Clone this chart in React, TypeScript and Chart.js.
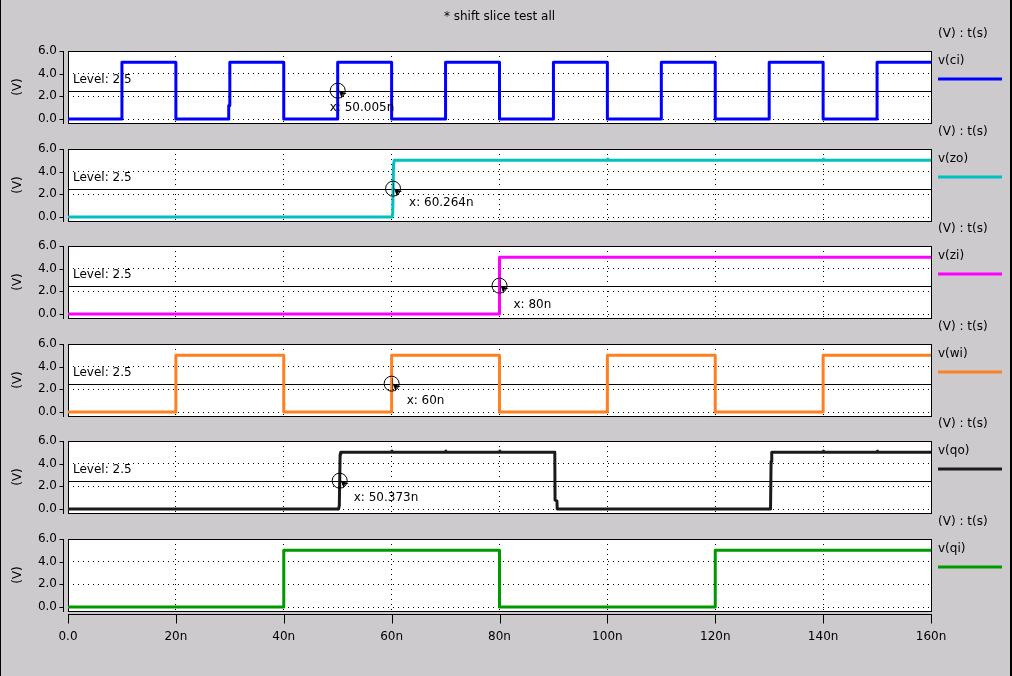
import React, { useEffect, useRef } from 'react';
import { Chart, registerables } from 'chart.js';

Chart.register(...registerables);

// ---------- data ----------
const TITLE = '* shift slice test all';
const X_TICKS = [0, 20, 40, 60, 80, 100, 120, 140, 160];
const Y_TICKS = [0, 2, 4, 6];
const LEVEL = 2.5;
const AXIS_UNITS = '(V) : t(s)';
const Y_TITLE = '(V)';
const X_TITLE = 't(s)';

const signalNames = ['v(ci)', 'v(zo)', 'v(zi)', 'v(wi)', 'v(qo)', 'v(qi)'];

const ciTime = [0, 10, 10, 20, 20, 29.8, 29.8, 30, 30, 40, 40, 50, 50, 60, 60, 70, 70, 80, 80, 90, 90, 100, 100, 110, 110, 120, 120, 130, 130, 140, 140, 150, 150, 160];
const ciVolt = [0, 0, 5, 5, 0, 0, 1.2, 1.2, 5, 5, 0, 0, 5, 5, 0, 0, 5, 5, 0, 0, 5, 5, 0, 0, 5, 5, 0, 0, 5, 5, 0, 0, 5, 5];

const zoTime = [0, 60.05, 60.2, 60.35, 60.5, 100, 100.05, 100.1, 140, 140.05, 140.1, 160];
const zoVolt = [0, 0, 0.3, 4.6, 5, 5, 5.12, 5, 5, 5.12, 5, 5];

const ziTime = [0, 80, 80, 160];
const ziVolt = [0, 0, 5, 5];

const wiTime = [0, 20, 20, 40, 40, 60, 60, 80, 80, 100, 100, 120, 120, 140, 140, 160];
const wiVolt = [0, 0, 5, 5, 0, 0, 5, 5, 0, 0, 5, 5, 0, 0, 5, 5];

const qoTime = [0, 50.15, 50.3, 50.45, 50.55, 60, 60.05, 60.1, 70, 70.05, 70.1, 80, 80.05, 80.1, 90.25, 90.3, 90.65, 90.7, 130.25, 130.35, 130.45, 130.5, 140, 140.05, 140.1, 150, 150.05, 150.1, 160];
const qoVolt = [0, 0, 0.3, 4.8, 5, 5, 5.12, 5, 5, 5.12, 5, 5, 5.12, 5, 5, 0.8, 0.7, 0, 0, 4.2, 4.4, 5, 5, 5.12, 5, 5, 5.12, 5, 5];

const qiTime = [0, 40, 40, 80, 80, 120, 120, 160];
const qiVolt = [0, 0, 5, 5, 0, 0, 5, 5];

const cursorX = [50.005, 60.264, 80, 60, 50.373, null];
const cursorText = ['x: 50.005n', 'x: 60.264n', 'x: 80n', 'x: 60n', 'x: 50.373n', null];

// ---------- style / layout ----------
const BG = 'rgb(204,202,205)';
const FONT = '"DejaVu Sans", sans-serif';
const COLORS = ['#0000ff', '#00c0c0', '#ff00ff', '#ff8020', '#1a1a1a', '#009a00'];
const TOPS = [51, 149, 246, 344, 441, 539];
const BOX_H = 72;
const PLOT_LEFT = 68;
const PLOT_RIGHT = 931;
const W = 1012;
const H = 676;
const Y_MIN = -0.35;
const Y_MAX = 6;
const LABEL_DX = [-8, 16, 14, 15, 14, 0];
const LABEL_DY = [16, 13, 18, 16, 16, 0];

const SERIES = [
  [ciTime, ciVolt],
  [zoTime, zoVolt],
  [ziTime, ziVolt],
  [wiTime, wiVolt],
  [qoTime, qoVolt],
  [qiTime, qiVolt],
];

const BOTTOM_PAD = 22;

function canvasTop(i: number) {
  return i === 0 ? 0 : TOPS[i] - 30;
}
function canvasBottom(i: number) {
  return i === TOPS.length - 1 ? H : TOPS[i] + BOX_H + BOTTOM_PAD;
}

function makeDecor(i: number) {
  const last = i === TOPS.length - 1;
  return {
    id: 'decor' + i,
    beforeDraw(chart: any) {
      const { ctx, chartArea: a } = chart;
      ctx.save();
      ctx.fillStyle = '#ffffff';
      ctx.fillRect(a.left, a.top, a.right - a.left, a.bottom - a.top);
      ctx.restore();
    },
    beforeDatasetsDraw(chart: any) {
      const { ctx, chartArea: a, scales } = chart;
      const ys = scales.y;
      const xs = scales.x;
      ctx.save();
      ctx.strokeStyle = '#000';
      ctx.lineWidth = 1;
      ctx.setLineDash([]);
      // box
      ctx.strokeRect(a.left + 0.5, a.top + 0.5, a.right - a.left, a.bottom - a.top);
      // offset y axis
      const ax = a.left - 5 + 0.5;
      ctx.beginPath();
      ctx.moveTo(ax, a.top);
      ctx.lineTo(ax, a.bottom + 1);
      Y_TICKS.forEach((v) => {
        const py = Math.round(ys.getPixelForValue(v)) + 0.5;
        ctx.moveTo(ax - 4, py);
        ctx.lineTo(ax, py);
      });
      ctx.stroke();
      // level reference line
      if (cursorX[i] !== null && cursorX[i] !== undefined) {
        const ly = Math.round(ys.getPixelForValue(LEVEL)) + 0.5;
        ctx.beginPath();
        ctx.moveTo(xs.getPixelForValue(X_TICKS[0]), ly);
        ctx.lineTo(xs.getPixelForValue(X_TICKS[X_TICKS.length - 1]), ly);
        ctx.stroke();
      }
      if (last) {
        const ay = a.bottom + 3 + 0.5;
        ctx.beginPath();
        ctx.moveTo(a.left, ay);
        ctx.lineTo(a.right + 1, ay);
        X_TICKS.forEach((v) => {
          const px = Math.round(xs.getPixelForValue(v)) + 0.5;
          ctx.moveTo(px, ay);
          ctx.lineTo(px, ay + 9);
        });
        ctx.stroke();
      }
      ctx.restore();
    },
    afterDatasetsDraw(chart: any) {
      const { ctx, chartArea: a, scales } = chart;
      const ys = scales.y;
      const xs = scales.x;
      ctx.save();
      ctx.fillStyle = '#000';
      ctx.font = '12px ' + FONT;
      // y title
      ctx.save();
      ctx.translate(18, (a.top + a.bottom) / 2);
      ctx.rotate(-Math.PI / 2);
      ctx.textAlign = 'center';
      ctx.textBaseline = 'middle';
      ctx.fillText(Y_TITLE, 0, 0);
      ctx.restore();
      // legend
      ctx.textAlign = 'left';
      ctx.textBaseline = 'middle';
      ctx.fillText(AXIS_UNITS, 938, a.top - 17);
      ctx.fillText(signalNames[i], 938, a.top + 10);
      ctx.strokeStyle = COLORS[i];
      ctx.lineWidth = 3;
      ctx.beginPath();
      ctx.moveTo(938, a.top + 28);
      ctx.lineTo(1002, a.top + 28);
      ctx.stroke();
      // title
      if (i === 0) {
        ctx.textAlign = 'center';
        ctx.fillText(TITLE, (a.left + a.right) / 2, 17);
      }
      if (last) {
        ctx.textAlign = 'center';
        ctx.fillText(X_TITLE, (a.left + a.right) / 2, 657);
      }
      // level label + cursor
      const cx = cursorX[i];
      if (cx !== null && cx !== undefined) {
        const ly = Math.round(ys.getPixelForValue(LEVEL)) + 0.5;
        ctx.textAlign = 'left';
        ctx.textBaseline = 'alphabetic';
        ctx.fillText('Level: ' + LEVEL, a.left + 5, Math.round(ly - 9));
        const px = xs.getPixelForValue(cx);
        ctx.strokeStyle = '#000';
        ctx.lineWidth = 1;
        ctx.setLineDash([1, 1]);
        ctx.beginPath();
        ctx.moveTo(Math.round(px) + 0.5, ly - 6);
        ctx.lineTo(Math.round(px) + 0.5, ly + 6);
        ctx.stroke();
        ctx.setLineDash([]);
        ctx.beginPath();
        ctx.moveTo(px + 1, ly - 1);
        ctx.lineTo(px + 9, ly + 2);
        ctx.lineTo(px + 5, ly + 3);
        ctx.lineTo(px + 4, ly + 7);
        ctx.closePath();
        ctx.fill();
        ctx.textBaseline = 'middle';
        ctx.fillText(cursorText[i] as string, px + LABEL_DX[i], ly + LABEL_DY[i]);
      }
      ctx.restore();
    },
  };
}

export default function App() {
  const refs = useRef<(HTMLCanvasElement | null)[]>([]);

  useEffect(() => {
    const charts = SERIES.map(([t, v], i) => {
      const last = i === SERIES.length - 1;
      const top = TOPS[i];
      const c0 = canvasTop(i);
      const datasets: any[] = [];
      const cx = cursorX[i];
      if (cx !== null && cx !== undefined) {
        datasets.push({
          label: 'cursor',
          data: [{ x: cx, y: LEVEL }],
          showLine: false,
          pointStyle: 'circle',
          pointRadius: 7.5,
          pointBorderWidth: 1,
          pointBorderColor: '#000',
          pointBackgroundColor: 'rgba(0,0,0,0)',
          order: 0,
        });
      }
      datasets.push({
        label: signalNames[i],
        data: t.map((x, k) => ({ x, y: v[k] })),
        borderColor: COLORS[i],
        borderWidth: 3,
        pointRadius: 0,
        tension: 0,
        fill: false,
        borderJoinStyle: 'round',
        borderCapStyle: 'butt',
        order: 1,
      });
      const canvas = refs.current[i] as HTMLCanvasElement;
      return new Chart(canvas, {
        type: 'line',
        data: { datasets },
        plugins: [makeDecor(i)],
        options: {
          animation: false,
          responsive: false,
          maintainAspectRatio: false,
          events: [],
          layout: {
            padding: {
              left: 0,
              right: W - PLOT_RIGHT,
              top: top - c0,
              bottom: last ? 0 : BOTTOM_PAD,
            },
          },
          plugins: {
            legend: { display: false },
            tooltip: { enabled: false },
            title: { display: false },
          },
          scales: {
            x: {
              type: 'linear',
              min: X_TICKS[0],
              max: X_TICKS[X_TICKS.length - 1],
              afterBuildTicks: (s: any) => {
                s.ticks = X_TICKS.map((value) => ({ value }));
              },
              afterFit: (s: any) => {
                s.height = last ? H - (top + BOX_H) : 0;
              },
              grid: {
                display: true,
                drawTicks: false,
                color: '#000',
                lineWidth: 1,
              },
              border: { display: false, dash: [1, 4] },
              ticks: {
                display: last,
                padding: 19,
                color: '#000',
                maxRotation: 0,
                autoSkip: false,
                font: { family: FONT, size: 12 },
                callback: (val: any) => (Number(val) === 0 ? '0.0' : val + 'n'),
              },
            },
            y: {
              type: 'linear',
              min: Y_MIN,
              max: Y_MAX,
              afterBuildTicks: (s: any) => {
                s.ticks = Y_TICKS.map((value) => ({ value }));
              },
              afterFit: (s: any) => {
                s.width = PLOT_LEFT;
              },
              grid: {
                display: true,
                drawTicks: false,
                color: '#000',
                lineWidth: 1,
              },
              border: { display: false, dash: [1, 4] },
              ticks: {
                padding: 11,
                color: '#000',
                autoSkip: false,
                font: { family: FONT, size: 12 },
                callback: (val: any) => Number(val).toFixed(1),
              },
            },
          },
        } as any,
      });
    });
    return () => charts.forEach((c) => c.destroy());
  }, []);

  return (
    <div
      style={{
        position: 'absolute',
        left: 0,
        top: 0,
        width: W,
        height: H,
        background: BG,
        overflow: 'hidden',
      }}
    >
      {SERIES.map((_, i) => (
        <canvas
          key={i}
          ref={(el) => {
            refs.current[i] = el;
          }}
          width={W}
          height={canvasBottom(i) - canvasTop(i)}
          style={{ position: 'absolute', left: 0, top: canvasTop(i), display: 'block' }}
        />
      ))}
      <div style={{ position: 'absolute', left: 0, top: 0, width: 1, height: H, background: '#000' }} />
      <div style={{ position: 'absolute', left: W - 2, top: 0, width: 2, height: H, background: '#000' }} />
    </div>
  );
}
